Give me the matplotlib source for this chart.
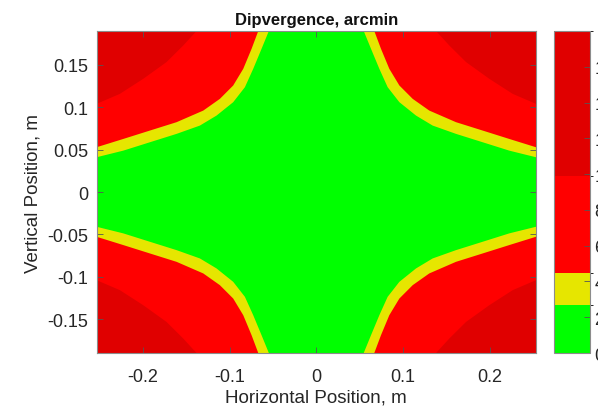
import numpy as np
import matplotlib.pyplot as plt
from matplotlib.colors import ListedColormap, BoundaryNorm
import matplotlib.cm as cm

plt.rcParams['font.family'] = ['Liberation Sans', 'DejaVu Sans']

# colour bands of the divergence map, arcmin
band_edges = [0, 2.7, 4.5, 9.9, 18]
band_colors = ['#00ff00', '#e6e600', '#ff0000', '#e00000']

# contour lines in the upper-right quadrant (the map is mirror symmetric)
# each line runs from the top edge to the right edge of the plot
edge_27_x = [0.0547, 0.0631, 0.0727, 0.0823, 0.0958, 0.1150, 0.1342, 0.1611, 0.1919, 0.2226, 0.2534]
edge_27_y = [0.1900, 0.1690, 0.1454, 0.1237, 0.1060, 0.0902, 0.0784, 0.0686, 0.0587, 0.0488, 0.0410]

edge_45_x = [0.0669, 0.0746, 0.0842, 0.0958, 0.1112, 0.1303, 0.1611, 0.1919, 0.2226, 0.2534]
edge_45_y = [0.1900, 0.1690, 0.1454, 0.1257, 0.1099, 0.0961, 0.0824, 0.0725, 0.0626, 0.0528]

edge_99_x = [0.1381, 0.1534, 0.1727, 0.1995, 0.2265, 0.2534]
edge_99_y = [0.1900, 0.1729, 0.1533, 0.1336, 0.1158, 0.1040]

xlim = (-0.2534, 0.2534)
ylim = (-0.19, 0.19)

fig = plt.figure(figsize=(5.98, 4.14), dpi=100)
ax = fig.add_axes([0.1614, 0.1449, 0.735, 0.7778])
cax = fig.add_axes([0.9264, 0.1449, 0.0602, 0.7778])

ax.set_facecolor(band_colors[0])
far = 1.0
edges = [(edge_27_x, edge_27_y, band_colors[1]),
         (edge_45_x, edge_45_y, band_colors[2]),
         (edge_99_x, edge_99_y, band_colors[3])]
for sx in (-1, 1):
    for sy in (-1, 1):
        for ex, ey, col in edges:
            px = np.array([ex[0]] + ex + [far, far])
            py = np.array([far] + ey + [ey[-1], far])
            ax.fill(sx * px, sy * py, color=col, lw=0)

ax.set_xlim(xlim)
ax.set_ylim(ylim)
ax.set_xticks([-0.2, -0.1, 0, 0.1, 0.2])
ax.set_xticklabels(['-0.2', '-0.1', '0', '0.1', '0.2'])
ax.set_yticks([-0.15, -0.1, -0.05, 0, 0.05, 0.1, 0.15])
ax.set_yticklabels(['-0.15', '-0.1', '-0.05', '0', '0.05', '0.1', '0.15'])
ax.tick_params(direction='in', length=4, width=0.6, colors='#555555',
               labelcolor='#262626', labelsize=13, top=True, right=True, pad=6)
ax.tick_params(axis='x', pad=11)
for s in ax.spines.values():
    s.set_color('#8c8c8c')
    s.set_linewidth(0.8)
ax.set_xlabel('Horizontal Position, m', fontsize=13.5, color='#262626', labelpad=2)
ax.set_ylabel('Vertical Position, m', fontsize=13.5, color='#262626', labelpad=4)
ax.set_title('Dipvergence, arcmin', fontsize=12, fontweight='bold', color='#111111', pad=5)

cmap = ListedColormap(band_colors)
norm = BoundaryNorm(band_edges, cmap.N)
sm = cm.ScalarMappable(norm=norm, cmap=cmap)
cb = fig.colorbar(sm, cax=cax, boundaries=band_edges, spacing='proportional')
cb.set_ticks(list(range(0, 18, 2)))
cb.ax.tick_params(direction='in', length=4, width=0.6, colors='#555555',
                  labelcolor='#262626', labelsize=13, pad=3)
cb.outline.set_edgecolor('#8c8c8c')
cb.outline.set_linewidth(0.8)

fig.savefig('out.png', dpi=100)
